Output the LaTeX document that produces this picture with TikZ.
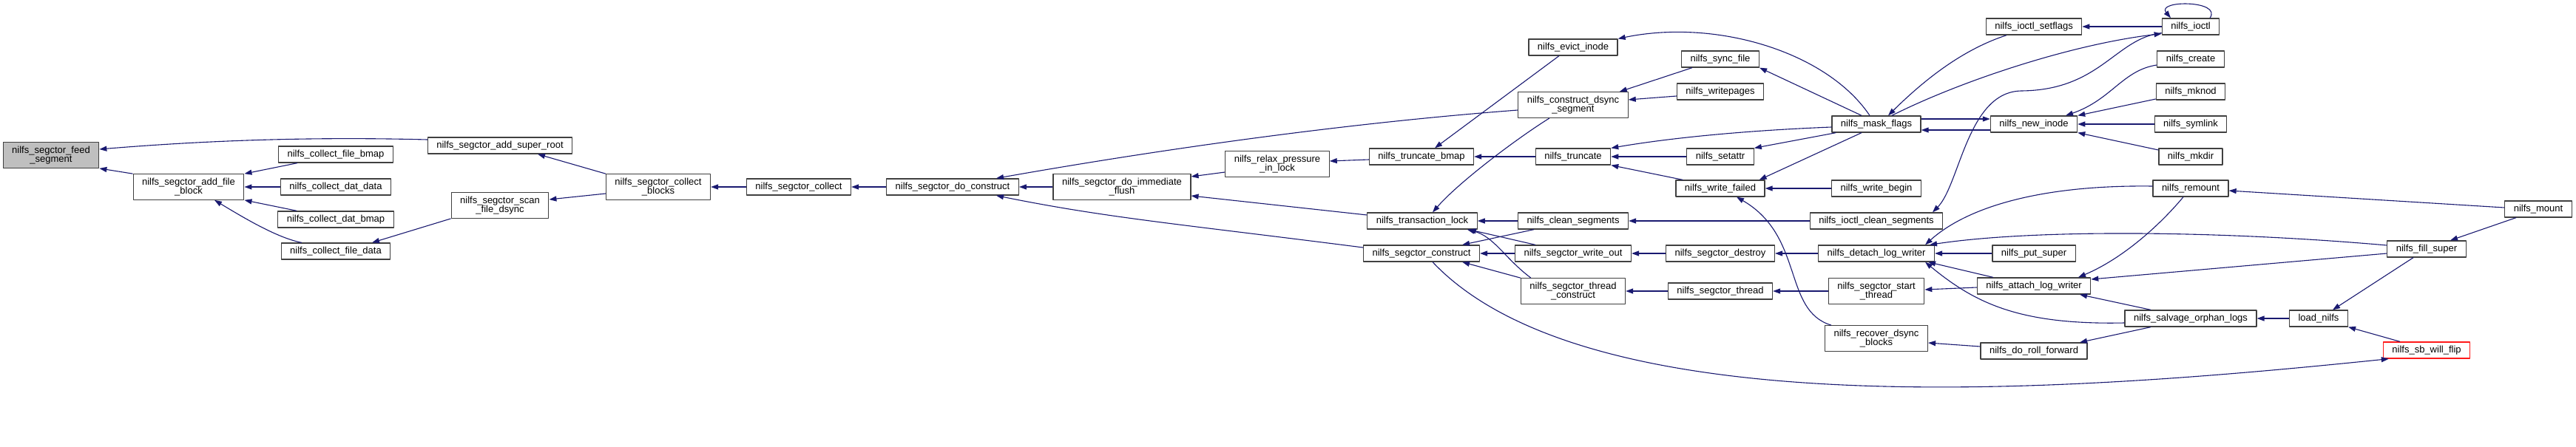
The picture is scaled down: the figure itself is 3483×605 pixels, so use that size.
\documentclass[tikz,border=0pt]{standalone}
\usepackage{fontspec}
\setmainfont{Liberation Sans}
\usetikzlibrary{arrows.meta}
\definecolor{edgeblue}{HTML}{191970}
\definecolor{boxgray}{HTML}{BFBFBF}
\definecolor{framegray}{HTML}{404040}
\begin{document}
\begin{tikzpicture}[x=1pt, y=-1pt, >={Triangle[length=10pt,width=7pt]}, line join=round,
	fn/.style={draw=framegray, line width=1.2pt, fill=white, align=center, inner xsep=12pt, inner ysep=5pt, minimum height=22pt, font=\fontsize{13}{12.5}\selectfont},
	hl/.style={fn, fill=boxgray},
	trunc/.style={fn, draw=red!90},
	call/.style={->, draw=edgeblue, line width=1.1pt}]
			\useasboundingbox (0,0) rectangle (3483,605);
			\node[hl] (feed) at (69,210) {nilfs\_segctor\_feed\\\_segment};
			\node[fn] (addfile) at (255,253) {nilfs\_segctor\_add\_file\\\_block};
			\node[fn] (cfbmap) at (454,209) {nilfs\_collect\_file\_bmap};
			\node[fn] (cddata) at (454,253) {nilfs\_collect\_dat\_data};
			\node[fn] (cdbmap) at (454,297) {nilfs\_collect\_dat\_bmap};
			\node[fn] (cfdata) at (454,340) {nilfs\_collect\_file\_data};
			\node[fn] (addsr) at (676,197) {nilfs\_segctor\_add\_super\_root};
			\node[fn] (scan) at (676,278) {nilfs\_segctor\_scan\\\_file\_dsync};
			\node[fn] (cblocks) at (890,253) {nilfs\_segctor\_collect\\\_blocks};
			\node[fn] (collect) at (1080,253) {nilfs\_segctor\_collect};
			\node[fn] (doconstr) at (1288,253) {nilfs\_segctor\_do\_construct};
			\node[fn] (immflush) at (1517,253) {nilfs\_segctor\_do\_immediate\\\_flush};
			\node[fn] (relax) at (1727,222) {nilfs\_relax\_pressure\\\_in\_lock};
			\node[fn] (tbmap) at (1922,212) {nilfs\_truncate\_bmap};
			\node[fn] (tlock) at (1923,299) {nilfs\_transaction\_lock};
			\node[fn] (sconstr) at (1922,343) {nilfs\_segctor\_construct};
			\node[fn] (evict) at (2127,64) {nilfs\_evict\_inode};
			\node[fn] (dsyncseg) at (2127,142) {nilfs\_construct\_dsync\\\_segment};
			\node[fn] (truncate) at (2127,212) {nilfs\_truncate};
			\node[fn] (cleanseg) at (2127,299) {nilfs\_clean\_segments};
			\node[fn] (writeout) at (2127,343) {nilfs\_segctor\_write\_out};
			\node[fn] (threadconstr) at (2127,394) {nilfs\_segctor\_thread\\\_construct};
			\node[fn] (syncfile) at (2326,80) {nilfs\_sync\_file};
			\node[fn] (writepages) at (2326,124) {nilfs\_writepages};
			\node[fn] (setattr) at (2326,212) {nilfs\_setattr};
			\node[fn] (wfailed) at (2326,255) {nilfs\_write\_failed};
			\node[fn] (sdestroy) at (2326,343) {nilfs\_segctor\_destroy};
			\node[fn] (sthread) at (2326,394) {nilfs\_segctor\_thread};
			\node[fn] (mask) at (2537,168) {nilfs\_mask\_flags};
			\node[fn] (wbegin) at (2537,255) {nilfs\_write\_begin};
			\node[fn] (ioctlclean) at (2537,299) {nilfs\_ioctl\_clean\_segments};
			\node[fn] (detach) at (2537,343) {nilfs\_detach\_log\_writer};
			\node[fn] (startthread) at (2537,394) {nilfs\_segctor\_start\\\_thread};
			\node[fn] (recover) at (2537,458) {nilfs\_recover\_dsync\\\_blocks};
			\node[fn] (isetflags) at (2750,36) {nilfs\_ioctl\_setflags};
			\node[fn] (newinode) at (2750,168) {nilfs\_new\_inode};
			\node[fn] (putsuper) at (2750,343) {nilfs\_put\_super};
			\node[fn] (attach) at (2750,387) {nilfs\_attach\_log\_writer};
			\node[fn] (rollfwd) at (2750,475) {nilfs\_do\_roll\_forward};
			\node[fn] (ioctl) at (2962,36) {nilfs\_ioctl};
			\node[fn] (create) at (2962,80) {nilfs\_create};
			\node[fn] (mknod) at (2962,124) {nilfs\_mknod};
			\node[fn] (symlink) at (2962,168) {nilfs\_symlink};
			\node[fn] (mkdir) at (2962,212) {nilfs\_mkdir};
			\node[fn] (remount) at (2962,255) {nilfs\_remount};
			\node[fn] (salvage) at (2962,431) {nilfs\_salvage\_orphan\_logs};
			\node[fn] (loadnilfs) at (3135,431) {load\_nilfs};
			\node[fn] (fillsuper) at (3281,337) {nilfs\_fill\_super};
			\node[fn] (mount) at (3432,283) {nilfs\_mount};
			\node[trunc] (sbflip) at (3281,474) {nilfs\_sb\_will\_flip};
			\draw[call] (addfile.north west) -- (feed.south east);
			\draw[call] ([yshift=8pt]addsr.west) .. controls (420,185) and (280,190) .. ([yshift=8pt]feed.east);
			\draw[call] ([xshift=26pt]cfbmap.south west) -- (addfile.north east);
			\draw[call] (cddata) -- (addfile);
			\draw[call] ([xshift=26pt]cdbmap.north west) -- (addfile.south east);
			\draw[call] ([xshift=-46pt]cfdata.north) .. controls (375,322) and (330,295) .. ([xshift=35pt]addfile.south);
			\draw[call] (scan.south west) -- ([xshift=49pt]cfdata.north);
			\draw[call] (cblocks.north west) -- ([xshift=51pt]addsr.south);
			\draw[call] ([yshift=-9pt]cblocks.west) -- ([yshift=8pt]scan.east);
			\draw[call] (collect) -- (cblocks);
			\draw[call] (doconstr) -- (collect);
			\draw[call] ([yshift=-7pt]dsyncseg.west) .. controls (1802,168) and (1547,206) .. ([xshift=59pt]doconstr.north);
			\draw[call] (immflush) -- (doconstr);
			\draw[call] ([yshift=8pt]sconstr.west) .. controls (1593,303) and (1497,295) .. ([xshift=59pt]doconstr.south);
			\draw[call] ([yshift=-11pt]relax.west) -- ([yshift=14pt]immflush.east);
			\draw[call] ([yshift=8pt]tlock.west) -- ([yshift=-12pt]immflush.east);
			\draw[call] ([yshift=-4pt]tbmap.west) -- ([yshift=4pt]relax.east);
			\draw[call] ([xshift=-19pt]evict.south) -- ([xshift=18pt]tbmap.north);
			\draw[call] (truncate) -- (tbmap);
			\draw[call] ([xshift=-32pt]dsyncseg.south) .. controls (2050,188) and (1972,247) .. ([xshift=14pt]tlock.north);
			\draw[call] (cleanseg) -- (tlock);
			\draw[call] ([xshift=28pt]writeout.north west) -- ([xshift=-12pt]tlock.south east);
			\draw[call] ([xshift=14pt]threadconstr.north west) .. controls (2035,350) and (2020,320) .. ([xshift=-14pt]tlock.south east);
			\draw[call] ([xshift=22pt]cleanseg.south west) -- ([xshift=-24pt]sconstr.north east);
			\draw[call] (writeout) -- (sconstr);
			\draw[call] (threadconstr.north west) -- ([xshift=-24pt]sconstr.south east);
			\draw[call] ([xshift=15pt]sconstr.south) .. controls (2150,580) and (2800,530) .. ([xshift=8pt]sbflip.south west);
			\draw[call] ([yshift=-4pt]mask.west) .. controls (2350,177) and (2250,188) .. (truncate.north east);
			\draw[call] (setattr) -- (truncate);
			\draw[call] ([xshift=10pt]wfailed.north west) -- (truncate.south east);
			\draw[call] ([xshift=15pt]syncfile.south west) -- ([xshift=-12pt]dsyncseg.north east);
			\draw[call] ([yshift=-6pt]writepages.west) -- ([yshift=7pt]dsyncseg.east);
			\draw[call] ([xshift=-20pt]mask.north) -- (syncfile.south east);
			\draw[call] ([xshift=6pt]mask.south west) -- (setattr.north east);
			\draw[call] ([xshift=-20pt]mask.south) -- ([xshift=-8pt]wfailed.north east);
			\draw[call] (wbegin) -- (wfailed);
			\draw[call] ([xshift=9pt]recover.north west) .. controls (2410,420) and (2440,320) .. ([xshift=22pt]wfailed.south);
			\draw[call] ([xshift=-9pt]mask.north) .. controls (2470,70) and (2320,25) .. (evict.north east);
			\draw[call] (ioctlclean) -- (cleanseg);
			\draw[call] (sdestroy) -- (writeout);
			\draw[call] (detach) -- (sdestroy);
			\draw[call] (sthread) -- (threadconstr);
			\draw[call] (startthread) -- (sthread);
			\draw[call] ([yshift=-2pt]attach.west) -- ([yshift=2pt]startthread.east);
			\draw[call] ([yshift=6pt]rollfwd.west) -- ([yshift=-6pt]recover.east);
			\draw[call] ([xshift=-37pt]isetflags.south) .. controls (2660,65) and (2610,100) .. ([xshift=16pt]mask.north);
			\draw[call] ([xshift=21pt]mask.north) .. controls (2650,110) and (2800,60) .. ([yshift=2pt]ioctl.south west);
			\draw[call] ([yshift=3pt]ioctl.south west) .. controls (2860,52) and (2840,122) .. (2733,123) .. controls (2660,124) and (2650,250) .. ([xshift=76pt]ioctlclean.north);
			\draw[call] (ioctl) -- (isetflags);
			\draw[call] ([xshift=26pt]ioctl.north) .. controls (3005,0) and (2915,0) .. ([xshift=-27pt]ioctl.north);
			\draw[call] ([yshift=-8pt]newinode.west) -- ([yshift=-8pt]mask.east);
			\draw[call] ([yshift=7pt]mask.east) -- ([yshift=7pt]newinode.west);
			\draw[call] ([yshift=-8pt]create.west) .. controls (2870,95) and (2855,135) .. ([xshift=43pt]newinode.north);
			\draw[call] ([yshift=-10pt]mknod.west) -- (newinode.north east);
			\draw[call] (symlink) -- (newinode);
			\draw[call] ([yshift=9pt]mkdir.west) -- (newinode.south east);
			\draw[call] ([yshift=3pt]remount.west) .. controls (2760,250) and (2660,280) .. ([xshift=66pt]detach.north);
			\draw[call] ([yshift=5pt]fillsuper.west) .. controls (3000,312) and (2750,310) .. ([xshift=72pt]detach.north);
			\draw[call] (putsuper) -- (detach);
			\draw[call] ([xshift=22pt]attach.north west) -- ([xshift=70pt]detach.south);
			\draw[call] ([yshift=-6pt]salvage.west) .. controls (2730,440) and (2670,410) .. ([xshift=66pt]detach.south);
			\draw[call] ([xshift=-10pt]remount.south) .. controls (2920,305) and (2870,350) .. ([xshift=60pt]attach.north);
			\draw[call] ([yshift=-6pt]fillsuper.west) -- ([yshift=9pt]attach.east);
			\draw[call] ([xshift=-54pt]salvage.north) -- ([xshift=62pt]attach.south);
			\draw[call] ([xshift=-54pt]salvage.south) -- ([xshift=62pt]rollfwd.north);
			\draw[call] ([yshift=2pt]mount.west) -- ([yshift=-3pt]remount.east);
			\draw[call] ([xshift=-30pt]mount.south) -- ([xshift=32pt]fillsuper.north);
			\draw[call] (loadnilfs) -- (salvage);
			\draw[call] ([xshift=-18pt]fillsuper.south) -- ([xshift=19pt]loadnilfs.north);
			\draw[call] ([xshift=-36pt]sbflip.north) -- (loadnilfs.south east);
	\end{tikzpicture}
\end{document}
